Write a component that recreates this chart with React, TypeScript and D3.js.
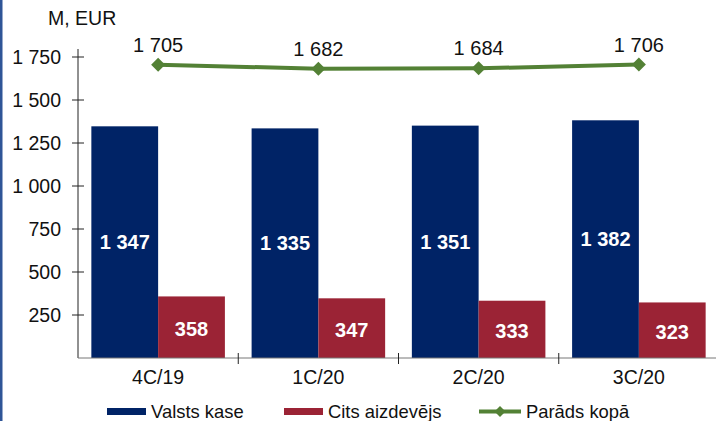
import React from "react";
import * as d3 from "d3";

const categories = ["4C/19", "1C/20", "2C/20", "3C/20"];
const valstsKase = [1347, 1335, 1351, 1382];
const citsAizdevejs = [358, 347, 333, 323];
const paradsKopa = [1705, 1682, 1684, 1706];
const yTicks = [250, 500, 750, 1000, 1250, 1500, 1750];

const fmt = (v: number) => d3.format(",")(v).replace(/,/g, " ");

export default function App() {
  const width = 716;
  const height = 421;
  const marginLeft = 78;
  const marginRight = -3;
  const marginBottom = 63;

  const x = d3
    .scaleBand()
    .domain(categories)
    .range([marginLeft, width - marginRight])
    .paddingInner(0)
    .paddingOuter(0);
  const inner = d3
    .scaleBand()
    .domain(["a", "b"])
    .range([0, x.bandwidth()])
    .paddingOuter(0.2);
  const y = d3
    .scaleLinear()
    .domain([0, 1750])
    .range([height - marginBottom, height - marginBottom - 301]);

  const line = d3
    .line<number>()
    .x((_, i) => x(categories[i])! + x.bandwidth() / 2)
    .y((d) => y(d));

  const font = "'Liberation Sans', Arial, sans-serif";
  const blue = "#002366";
  const red = "#9b2335";
  const green = "#538135";
  const y0 = y(0);

  return (
    <svg
      width={width}
      height={height}
      style={{ position: "absolute", left: 0, top: 0, background: "#fff" }}
      fontFamily={font}
    >
      <rect x={0} y={0} width={2.5} height={height} fill="#2f5597" />
      <text x={48} y={25} fontSize={19.5} fill="#111">
        M, EUR
      </text>

      {/* y axis */}
      <line x1={marginLeft} x2={marginLeft} y1={y(1750) - 8} y2={y0} stroke="#222" />
      {yTicks.map((t) => (
        <g key={t}>
          <line x1={marginLeft - 6} x2={marginLeft + 6} y1={y(t)} y2={y(t)} stroke="#222" />
          <text
            x={61}
            y={y(t)}
            dy="0.35em"
            textAnchor="end"
            fontSize={19.5}
            fill="#111"
          >
            {fmt(t)}
          </text>
        </g>
      ))}

      {/* bars */}
      {categories.map((c, i) => {
        const bx = x(c)!;
        const bw = inner.bandwidth();
        const xa = bx + inner("a")!;
        const xb = bx + inner("b")!;
        return (
          <g key={c}>
            <rect x={xa} y={y(valstsKase[i])} width={bw} height={y0 - y(valstsKase[i])} fill={blue} />
            <rect x={xb} y={y(citsAizdevejs[i])} width={bw} height={y0 - y(citsAizdevejs[i])} fill={red} />
            <text
              x={xa + bw / 2}
              y={(y(valstsKase[i]) + y0) / 2}
              dy="0.35em"
              textAnchor="middle"
              fontSize={20}
              fontWeight="bold"
              fill="#fff"
            >
              {fmt(valstsKase[i])}
            </text>
            <text
              x={xb + bw / 2}
              y={(y(citsAizdevejs[i]) + y0) / 2 + 2}
              dy="0.35em"
              textAnchor="middle"
              fontSize={20}
              fontWeight="bold"
              fill="#fff"
            >
              {fmt(citsAizdevejs[i])}
            </text>
            <text
              x={bx + x.bandwidth() / 2}
              y={y0 + 26}
              textAnchor="middle"
              fontSize={19.5}
              fill="#111"
            >
              {c}
            </text>
          </g>
        );
      })}

      {/* x axis */}
      <line x1={marginLeft} x2={width} y1={y0} y2={y0} stroke="#777" />
      {categories.map((c) => (
        <line
          key={c}
          x1={x(c)! + x.bandwidth()}
          x2={x(c)! + x.bandwidth()}
          y1={y0 - 5}
          y2={y0 + 6}
          stroke="#222"
        />
      ))}

      {/* line */}
      <path d={line(paradsKopa)!} fill="none" stroke={green} strokeWidth={4} />
      {paradsKopa.map((v, i) => {
        const cx = x(categories[i])! + x.bandwidth() / 2;
        const cy = y(v);
        return (
          <g key={i}>
            <path
              d={`M${cx},${cy - 7}L${cx + 7},${cy}L${cx},${cy + 7}L${cx - 7},${cy}Z`}
              fill={green}
            />
            <text x={cx} y={cy - 13} textAnchor="middle" fontSize={20} fill="#111">
              {fmt(v)}
            </text>
          </g>
        );
      })}

      {/* legend */}
      <g fontSize={18.4} fill="#111">
        <rect x={107} y={408} width={39} height={7} fill={blue} />
        <text x={151} y={418}>Valsts kase</text>
        <rect x={284} y={408} width={39} height={7} fill={red} />
        <text x={328} y={418}>Cits aizdevējs</text>
        <line x1={479} x2={521} y1={411.5} y2={411.5} stroke={green} strokeWidth={4} />
        <path d="M500,406L505.5,411.5L500,417L494.5,411.5Z" fill={green} />
        <text x={526} y={418}>Parāds kopā</text>
      </g>
    </svg>
  );
}
